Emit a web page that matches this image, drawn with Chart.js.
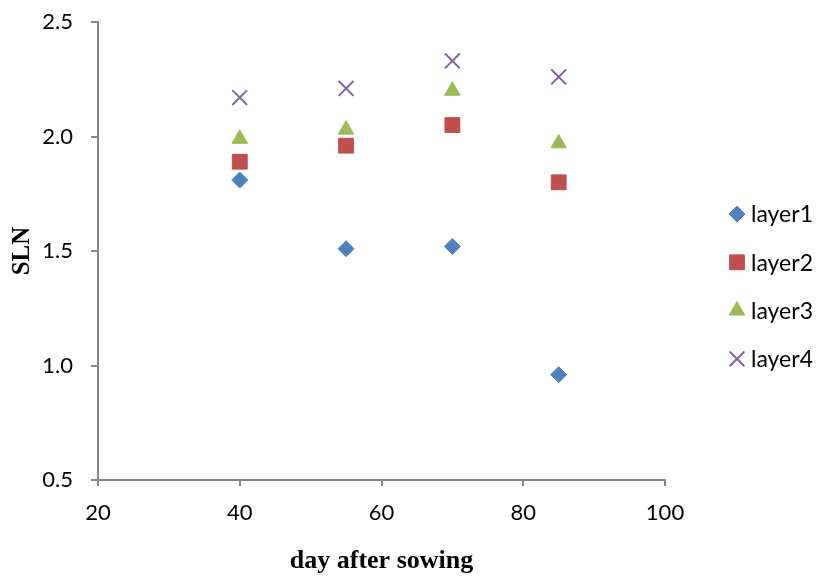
<!DOCTYPE html>
<html>
<head>
<meta charset="utf-8">
<script src="https://cdn.jsdelivr.net/npm/chart.js@4"></script>
<style>
  html, body { margin: 0; padding: 0; background: #fff; }
  #wrap { width: 819px; height: 577px; position: relative; }
</style>
</head>
<body>
<div id="wrap"><canvas id="chart"></canvas></div>
<script>
// Data
const days = [40, 55, 70, 85];
const layer1 = [1.81, 1.51, 1.52, 0.96];
const layer2 = [1.89, 1.96, 2.05, 1.80];
const layer3 = [1.99, 2.03, 2.20, 1.97];
const layer4 = [2.17, 2.21, 2.33, 2.26];
const seriesNames = ['layer1', 'layer2', 'layer3', 'layer4'];
const xTicks = [20, 40, 60, 80, 100];
const yTicks = [0.5, 1.0, 1.5, 2.0, 2.5];

const axisColor = '#868686';
const tickFont = { family: 'Lato', size: 22 };
const titleFont = { family: 'Liberation Serif', weight: 'bold' };

function toPoints(values) {
    return days.map((d, i) => ({ x: d, y: values[i] }));
}

// Legend drawn to the right of the plot, same marker styles as the datasets
const sideLegend = {
    id: 'sideLegend',
    afterDraw(chart) {
        const ctx = chart.ctx;
        const startY = 214;
        const step = 48.3;
        chart.data.datasets.forEach((ds, i) => {
            const y = startY + i * step;
            ctx.save();
            ctx.fillStyle = ds.backgroundColor;
            ctx.strokeStyle = ds.borderColor;
            ctx.lineWidth = ds.borderWidth;
            Chart.helpers.drawPoint(ctx, {
                pointStyle: ds.pointStyle,
                radius: ds.pointRadius,
                rotation: 0,
                borderWidth: ds.borderWidth
            }, 737, y);
            ctx.restore();

            ctx.save();
            ctx.font = '23px Lato';
            ctx.fillStyle = '#000';
            ctx.textBaseline = 'middle';
            ctx.fillText(ds.label, 751, y + 1);
            ctx.restore();
        });
    }
};

const ctx = document.getElementById('chart');

new Chart(ctx, {
    type: 'scatter',
    data: {
        datasets: [
            {
                label: seriesNames[0],
                data: toPoints(layer1),
                pointStyle: 'rectRot',
                pointRadius: 8,
                backgroundColor: '#4F81BD',
                borderColor: '#4F81BD',
                borderWidth: 1
            },
            {
                label: seriesNames[1],
                data: toPoints(layer2),
                pointStyle: 'rect',
                pointRadius: 10.5,
                backgroundColor: '#C0504D',
                borderColor: '#C0504D',
                borderWidth: 1
            },
            {
                label: seriesNames[2],
                data: toPoints(layer3),
                pointStyle: 'triangle',
                pointRadius: 9,
                backgroundColor: '#9BBB59',
                borderColor: '#9BBB59',
                borderWidth: 1
            },
            {
                label: seriesNames[3],
                data: toPoints(layer4),
                pointStyle: 'crossRot',
                pointRadius: 10.5,
                backgroundColor: '#8064A2',
                borderColor: '#8064A2',
                borderWidth: 2
            }
        ]
    },
    options: {
        responsive: true,
        maintainAspectRatio: false,
        animation: false,
        layout: { padding: { top: 22, right: 154, left: 0, bottom: 0 } },
        plugins: {
            legend: { display: false },
            tooltip: { enabled: false }
        },
        scales: {
            x: {
                type: 'linear',
                min: 20,
                max: 100,
                afterFit(scale) {
                    scale.height = 97;
                    scale.paddingLeft = 0;
                    scale.paddingRight = 0;
                },
                afterBuildTicks(scale) { scale.ticks = xTicks.map(v => ({ value: v })); },
                grid: { display: true, drawOnChartArea: false, drawTicks: true, tickLength: 6, color: axisColor, lineWidth: 2 },
                border: { color: axisColor, width: 2 },
                ticks: { color: '#000', font: tickFont, padding: 14 },
                title: {
                    display: true,
                    text: 'day after sowing',
                    color: '#000',
                    font: { ...titleFont, size: 26 },
                    padding: { top: 0, bottom: 0 }
                }
            },
            y: {
                type: 'linear',
                min: 0.5,
                max: 2.5,
                afterFit(scale) {
                    scale.width = 98;
                    scale.paddingTop = 0;
                    scale.paddingBottom = 0;
                },
                afterBuildTicks(scale) { scale.ticks = yTicks.map(v => ({ value: v })); },
                grid: { display: true, drawOnChartArea: false, drawTicks: true, tickLength: 7, color: axisColor, lineWidth: 2 },
                border: { color: axisColor, width: 2 },
                ticks: {
                    color: '#000',
                    font: tickFont,
                    padding: 18,
                    callback: v => Number(v).toFixed(1)
                },
                title: {
                    display: true,
                    text: 'SLN',
                    color: '#000',
                    font: { ...titleFont, size: 25 },
                    padding: { top: 8, bottom: 0 }
                }
            }
        }
    },
    plugins: [sideLegend]
});
</script>
</body>
</html>
